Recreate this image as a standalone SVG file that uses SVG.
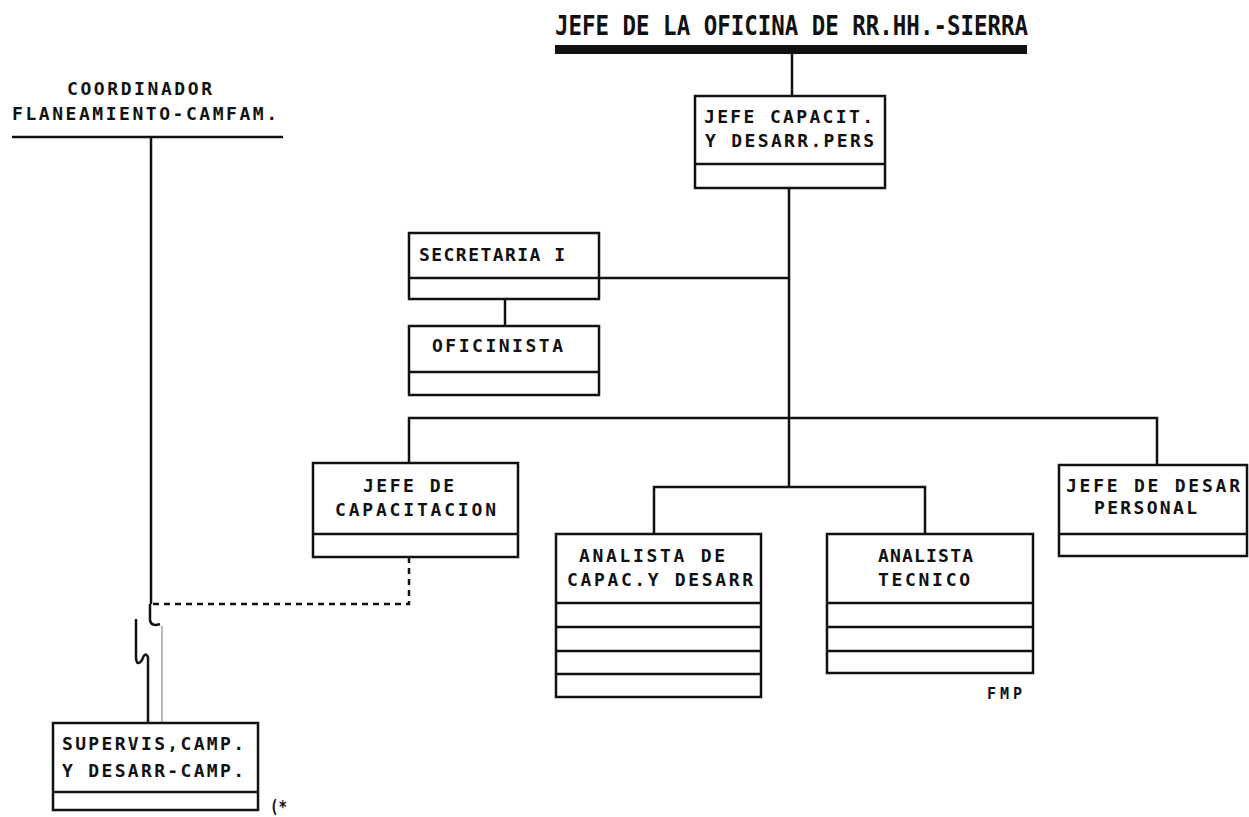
<svg xmlns="http://www.w3.org/2000/svg" width="1249" height="817" viewBox="0 0 1249 817">
<style>
.bx{fill:none;stroke:#111;stroke-width:2.5}
.ln{fill:none;stroke:#111;stroke-width:2.5}
.t{font-family:"DejaVu Sans Mono","Liberation Mono",monospace;font-weight:bold;font-size:18px;fill:#111}
.tt{font-family:"DejaVu Sans Mono","Liberation Mono",monospace;font-weight:bold;font-size:27px;fill:#111}
</style>
<rect width="1249" height="817" fill="#fff"/>
<g id="connectors">
<line class="ln" x1="792" y1="50" x2="792" y2="96"/>
<line class="ln" x1="789" y1="188" x2="789" y2="487"/>
<line class="ln" x1="599" y1="278" x2="789" y2="278"/>
<line class="ln" x1="505" y1="299" x2="505" y2="326"/>
<polyline class="ln" points="409,463 409,418 1157,418 1157,465"/>
<polyline class="ln" points="654,534 654,487 925,487 925,534"/>
<line class="ln" x1="12" y1="137" x2="283" y2="137"/>
<line class="ln" x1="151" y1="137" x2="151" y2="604"/>
<polyline class="ln" points="409,557 409,604 151,604" stroke-dasharray="6,5"/>
<path class="ln" d="M150,604 L150,620 Q151,627 160,624"/>
<path class="ln" d="M136,619 L136,658 Q137,667 142,660 Q145,651 148,657 L148,723"/>
<line x1="162" y1="626" x2="162" y2="723" stroke="#888" stroke-width="1.2"/>
</g>
<g id="head">
<text class="tt" x="555" y="35" textLength="473" lengthAdjust="spacingAndGlyphs">JEFE DE LA OFICINA DE RR.HH.-SIERRA</text>
<rect x="555" y="45" width="472" height="9" fill="#111"/>
</g>
<g id="coordinador">
<text class="t" x="67" y="95" textLength="145" lengthAdjust="spacing">COORDINADOR</text>
<text class="t" x="12" y="120" textLength="265" lengthAdjust="spacing">FLANEAMIENTO-CAMFAM.</text>
</g>
<g id="jefe-capacit">
<rect class="bx" x="695" y="96" width="190" height="92"/>
<line class="ln" x1="695" y1="164" x2="885" y2="164"/>
<text class="t" x="704" y="123" textLength="169" lengthAdjust="spacing">JEFE CAPACIT.</text>
<text class="t" x="705" y="147" textLength="169" lengthAdjust="spacing">Y DESARR.PERS</text>
</g>
<g id="secretaria">
<rect class="bx" x="409" y="233" width="190" height="66"/>
<line class="ln" x1="409" y1="278" x2="599" y2="278"/>
<text class="t" x="419" y="261" textLength="146" lengthAdjust="spacing">SECRETARIA I</text>
</g>
<g id="oficinista">
<rect class="bx" x="409" y="326" width="190" height="69"/>
<line class="ln" x1="409" y1="372" x2="599" y2="372"/>
<text class="t" x="432" y="352" textLength="131" lengthAdjust="spacing">OFICINISTA</text>
</g>
<g id="jefe-capacitacion">
<rect class="bx" x="313" y="463" width="205" height="94"/>
<line class="ln" x1="313" y1="534" x2="518" y2="534"/>
<text class="t" x="363" y="492" textLength="91" lengthAdjust="spacing">JEFE DE</text>
<text class="t" x="335" y="516" textLength="161" lengthAdjust="spacing">CAPACITACION</text>
</g>
<g id="analista-capac">
<rect class="bx" x="556" y="534" width="205" height="163"/>
<line class="ln" x1="556" y1="603" x2="761" y2="603"/>
<line class="ln" x1="556" y1="627" x2="761" y2="627"/>
<line class="ln" x1="556" y1="651" x2="761" y2="651"/>
<line class="ln" x1="556" y1="674" x2="761" y2="674"/>
<text class="t" x="579" y="562" textLength="146" lengthAdjust="spacing">ANALISTA DE</text>
<text class="t" x="567" y="586" textLength="186" lengthAdjust="spacing">CAPAC.Y DESARR</text>
</g>
<g id="analista-tecnico">
<rect class="bx" x="827" y="534" width="206" height="139"/>
<line class="ln" x1="827" y1="603" x2="1033" y2="603"/>
<line class="ln" x1="827" y1="627" x2="1033" y2="627"/>
<line class="ln" x1="827" y1="651" x2="1033" y2="651"/>
<text class="t" x="878" y="562" textLength="95" lengthAdjust="spacing">ANALISTA</text>
<text class="t" x="878" y="586" textLength="92" lengthAdjust="spacing">TECNICO</text>
</g>
<g id="jefe-desar">
<rect class="bx" x="1059" y="465" width="188" height="91"/>
<line class="ln" x1="1059" y1="534" x2="1247" y2="534"/>
<text class="t" x="1066" y="492" textLength="174" lengthAdjust="spacing">JEFE DE DESAR</text>
<text class="t" x="1094" y="514" textLength="103" lengthAdjust="spacing">PERSONAL</text>
</g>
<g id="supervis">
<rect class="bx" x="53" y="723" width="205" height="87"/>
<line class="ln" x1="53" y1="792" x2="258" y2="792"/>
<text class="t" x="62" y="750" textLength="182" lengthAdjust="spacing">SUPERVIS,CAMP.</text>
<text class="t" x="62" y="777" textLength="182" lengthAdjust="spacing">Y DESARR-CAMP.</text>
</g>
<g id="notes">
<text class="t" x="987" y="699" textLength="35" lengthAdjust="spacing" style="font-size:15px">FMP</text>
<text class="t" x="270" y="813" textLength="17" lengthAdjust="spacingAndGlyphs" style="font-size:17px">(*</text>
</g>
</svg>
